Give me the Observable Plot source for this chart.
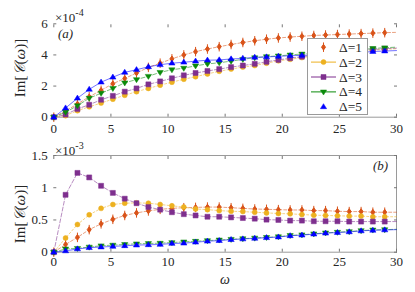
<!DOCTYPE html>
<html><head><meta charset="utf-8">
<script src="https://cdn.jsdelivr.net/npm/d3@7"></script>
<script src="https://cdn.jsdelivr.net/npm/@observablehq/plot@0.6"></script>
<style>
body{margin:0;background:#fff;}
#chart{position:relative;width:415px;height:292px;font-family:"Liberation Serif",serif;color:#262626;overflow:hidden;}
#chart svg{position:absolute;left:0;}
#chart svg text{font-family:"Liberation Serif",serif;}
.abs{position:absolute;white-space:nowrap;line-height:1;}
</style></head><body><div id="chart"></div>
<script>
// omega sample points
const omega = [0,1.03,2.07,3.10,4.14,5.17,6.21,7.24,8.28,9.31,10.34,11.38,12.41,13.45,14.48,15.52,16.55,17.59,18.62,19.66,20.69,21.72,22.76,23.79,24.83,25.86,26.90,27.93,28.97,30];
const labels = ["Δ=1","Δ=2","Δ=3","Δ=4","Δ=5"];
const colors = ["#D95319","#EDB120","#7E2F8E","#0A8A0A","#0000FF"];
const xTicks = [0,5,10,15,20,25,30];

// panel (a): units of 1e-4
const aD1 = [0,0.4,0.85,1.31,1.73,2.15,2.49,2.84,3.2,3.47,3.75,4.0,4.21,4.38,4.53,4.67,4.8,4.91,5.01,5.09,5.15,5.2,5.25,5.28,5.31,5.34,5.37,5.4,5.43,5.45];
const aD2 = [0,0.1,0.42,0.67,0.91,1.16,1.41,1.64,1.85,2.06,2.25,2.44,2.6,2.78,2.95,3.09,3.22,3.32,3.47,3.62,3.72,3.83,3.92,4.0,4.08,4.15,4.22,4.3,4.36,4.4];
const aD3 = [0,0.17,0.53,0.8,1.12,1.37,1.64,1.85,2.11,2.3,2.5,2.69,2.84,2.97,3.09,3.22,3.32,3.43,3.56,3.68,3.79,3.89,3.98,4.07,4.15,4.22,4.29,4.35,4.4,4.44];
const aD4 = [0,0.32,0.74,1.22,1.54,1.85,2.21,2.42,2.63,2.88,3.05,3.15,3.3,3.42,3.5,3.6,3.72,3.82,3.89,3.94,4.0,4.06,4.1,4.16,4.22,4.28,4.33,4.42,4.46,4.5];
const aD5 = [0,0.59,1.22,1.79,2.25,2.57,2.88,3.05,3.24,3.37,3.47,3.53,3.6,3.66,3.68,3.74,3.78,3.85,3.87,3.91,3.95,3.97,4.0,4.04,4.08,4.12,4.16,4.22,4.25,4.28];
const aYTicks = [0,2,4,6];

// panel (b): units of 1e-3
const bD1 = [0,0.12,0.23,0.35,0.44,0.51,0.57,0.61,0.64,0.665,0.68,0.69,0.695,0.70,0.70,0.69,0.68,0.67,0.665,0.66,0.655,0.655,0.645,0.645,0.635,0.63,0.63,0.62,0.62,0.62];
const bD2 = [0,0.22,0.43,0.58,0.68,0.74,0.76,0.765,0.76,0.74,0.72,0.70,0.67,0.66,0.645,0.635,0.63,0.62,0.61,0.60,0.595,0.585,0.575,0.57,0.565,0.56,0.56,0.55,0.55,0.55];
const bD3 = [0,0.89,1.23,1.16,1.03,0.92,0.83,0.76,0.70,0.66,0.62,0.59,0.57,0.55,0.55,0.54,0.53,0.52,0.505,0.50,0.49,0.49,0.48,0.48,0.48,0.475,0.475,0.475,0.475,0.475];
const bD4 = [0,0.05,0.06,0.08,0.10,0.11,0.12,0.13,0.135,0.14,0.15,0.16,0.17,0.18,0.19,0.20,0.21,0.22,0.23,0.24,0.26,0.27,0.285,0.30,0.31,0.32,0.335,0.345,0.35,0.355];
const bD5 = [0,0.02,0.05,0.07,0.08,0.09,0.10,0.11,0.115,0.12,0.135,0.14,0.155,0.17,0.18,0.195,0.205,0.215,0.225,0.235,0.255,0.265,0.28,0.295,0.305,0.315,0.33,0.34,0.345,0.35];
const bYTicks = [0,0.5,1,1.5];

// marker shapes
const R = s => Math.sqrt(s/Math.PI);
const symDiamondBar = {draw(c,s){const r=R(s); c.moveTo(0,-1.15*r); c.lineTo(0.8*r,0); c.lineTo(0,1.15*r); c.lineTo(-0.8*r,0); c.closePath(); c.moveTo(0,-1.9*r); c.lineTo(0,1.9*r);}};
const symCircle = {draw(c,s){const r=R(s); c.moveTo(r,0); c.arc(0,0,r,0,2*Math.PI);}};
const symSquare = {draw(c,s){const r=R(s); c.rect(-r,-r,2*r,2*r);}};
const symTriDown = {draw(c,s){const r=R(s)*1.25; c.moveTo(-r,-0.6*r); c.lineTo(r,-0.6*r); c.lineTo(0,r); c.closePath();}};
const symTriUp = {draw(c,s){const r=R(s)*1.25; c.moveTo(-r,0.6*r); c.lineTo(r,0.6*r); c.lineTo(0,-r); c.closePath();}};
const symbols = [symDiamondBar, symCircle, symSquare, symTriDown, symTriUp];
const dashes = ["3,2","2,2","4,2","4,2","none"];

const chart = document.getElementById("chart");
const font = "font-family:'Liberation Serif',serif;font-size:13px;color:#262626;background:transparent;overflow:visible;";
const fmt = d => String(d);

function seriesMarks(series){
  const marks = [];
  series.forEach((vals, k) => {
    const rows = omega.map((x,i) => ({x, y: vals[i], i}));
    marks.push(Plot.line(rows, {x:"x", y:"y", stroke: colors[k], strokeOpacity:0.55, strokeWidth:1, strokeDasharray: dashes[k]}));
    marks.push(Plot.dot(rows.filter(d => d.i < omega.length-1), {x:"x", y:"y", r:2.5, symbol: symbols[k], fill: colors[k], stroke: colors[k], strokeWidth: k===0 ? 1 : 0.5}));
  });
  return marks;
}

// top panel
const topPanel = Plot.plot({
  width:415, height:140, marginLeft:53.3, marginRight:19, marginTop:23.3, marginBottom:23.3,
  style: font,
  x:{domain:[0,30]}, y:{domain:[0,6]},
  marks:[
    Plot.frame({anchor:"bottom", stroke:"#9a9a9a"}),
    Plot.axisX({ticks:xTicks, tickSize:-3, tickPadding:10, tickFormat:fmt, label:null, stroke:"#777"}),
    Plot.axisX({anchor:"top", ticks:xTicks, tickSize:-3, tickFormat:()=>"", label:null, stroke:"#777"}),
    Plot.axisY({ticks:aYTicks, tickSize:-3, tickPadding:9, tickFormat:fmt, label:null, stroke:"#777"}),
    Plot.axisY({anchor:"right", ticks:aYTicks, tickSize:-3, tickFormat:()=>"", label:null, stroke:"#777"}),
    ...seriesMarks([aD1,aD2,aD3,aD4,aD5])
  ]
});
topPanel.style.top = "0px";
chart.appendChild(topPanel);

// bottom panel
const botPanel = Plot.plot({
  width:415, height:152, marginLeft:53.3, marginRight:19, marginTop:15, marginBottom:40.3,
  style: font,
  x:{domain:[0,30]}, y:{domain:[0,1.5]},
  marks:[
    Plot.frame({anchor:"top", stroke:"#9a9a9a"}),
    Plot.frame({anchor:"right", stroke:"#9a9a9a"}),
    Plot.frame({anchor:"bottom", stroke:"#9a9a9a"}),
    Plot.axisX({ticks:xTicks, tickSize:-3, tickPadding:8, tickFormat:fmt, label:null, stroke:"#777"}),
    Plot.axisX({anchor:"top", ticks:xTicks, tickSize:-3, tickFormat:()=>"", label:null, stroke:"#777"}),
    Plot.axisY({ticks:bYTicks, tickSize:-3, tickPadding:9, tickFormat:fmt, label:null, stroke:"#777"}),
    Plot.axisY({anchor:"right", ticks:bYTicks, tickSize:-3, tickFormat:()=>"", label:null, stroke:"#777"}),
    ...seriesMarks([bD1,bD2,bD3,bD4,bD5])
  ]
});
botPanel.style.top = "140px";
chart.appendChild(botPanel);

function addText(html, css){
  const d = document.createElement("div");
  d.className = "abs";
  d.innerHTML = html;
  Object.assign(d.style, css);
  chart.appendChild(d);
  return d;
}
addText("×10<sup style='font-size:10px;vertical-align:6px'>-4</sup>", {left:"55px", top:"8px", fontSize:"13px"});
addText("<i>(a)</i>", {left:"58px", top:"27px", fontSize:"13px"});
addText("×10<sup style='font-size:10px;vertical-align:6px'>-3</sup>", {left:"55px", top:"141px", fontSize:"13px"});
addText("<i>(b)</i>", {left:"373px", top:"159px", fontSize:"13px"});
addText("<i>ω</i>", {left:"220px", top:"273px", fontSize:"14px"});
const yl = "Im[<i>𝒞</i>(<i>ω</i>)]";
for (const cy of [68, 214]) {
  addText(yl, {left:"20px", top:cy+"px", fontSize:"15px", transform:"translate(-50%,-50%) rotate(-90deg)"});
}

// legend
const leg = document.createElement("div");
Object.assign(leg.style, {position:"absolute", left:"306.5px", top:"38px", width:"59px", height:"75px", border:"1px solid #9a9a9a", background:"#fff"});
chart.appendChild(leg);
const ls = d3.select(leg).append("svg").attr("width",59).attr("height",75).style("position","absolute").style("left","0").style("top","0").style("overflow","visible");
labels.forEach((lab,k) => {
  const y = 8.2 + k*14.9;
  if (k>=1 && k<=3) ls.append("line").attr("x1",3).attr("x2",28).attr("y1",y).attr("y2",y).attr("stroke",colors[k]).attr("stroke-width",1);
  ls.append("path").attr("transform",`translate(15.5,${y})`).attr("d", d3.symbol(symbols[k], 2.5*2.5*Math.PI)())
    .attr("fill",colors[k]).attr("stroke",colors[k]).attr("stroke-width", k===0?1:0.5);
  ls.append("text").attr("x",31).attr("y",y+4.5).attr("font-size",13.5).attr("fill","#262626").text(lab);
});
</script></body></html>
